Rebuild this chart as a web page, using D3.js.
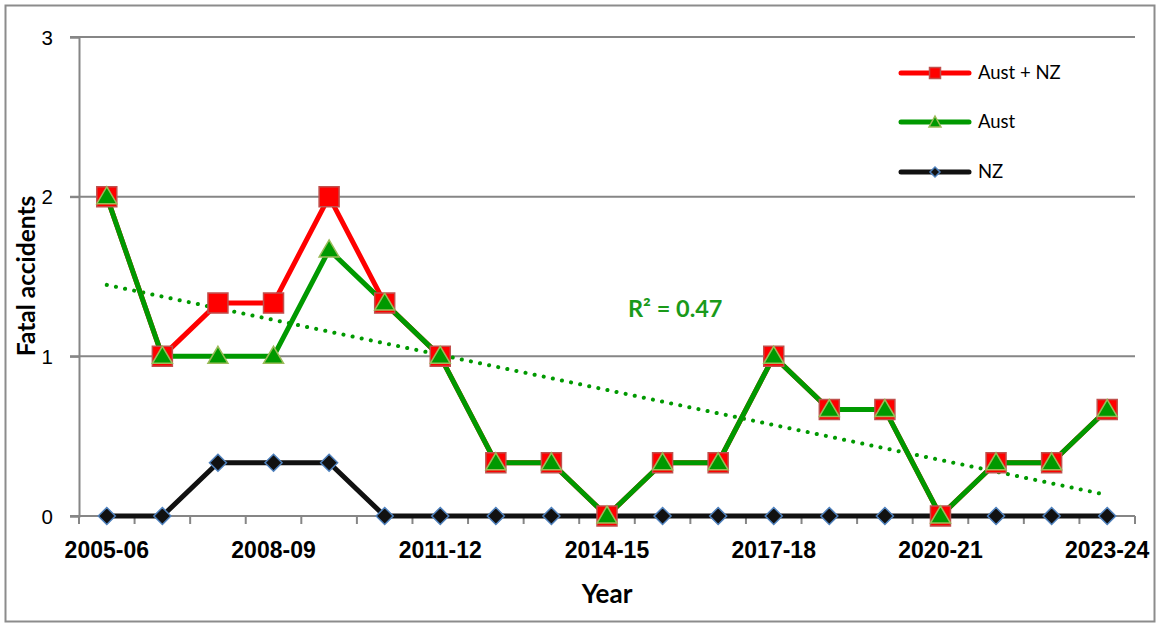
<!DOCTYPE html>
<html><head><meta charset="utf-8">
<script src="https://cdn.jsdelivr.net/npm/d3@7"></script>
<style>body{margin:0;background:#fff;}svg{display:block;font-family:Lato,"Open Sans",sans-serif;}</style>
</head><body><svg id="c" width="1160" height="625"></svg>
<script>
const years = ["2005-06","2006-07","2007-08","2008-09","2009-10","2010-11","2011-12","2012-13","2013-14","2014-15","2015-16","2016-17","2017-18","2018-19","2019-20","2020-21","2021-22","2022-23","2023-24"];
const tickLabels = ["2005-06","2008-09","2011-12","2014-15","2017-18","2020-21","2023-24"];
const austNZ = [2,1,4/3,4/3,2,4/3,1,1/3,1/3,0,1/3,1/3,1,2/3,2/3,0,1/3,1/3,2/3];
const aust   = [2,1,1,1,5/3,4/3,1,1/3,1/3,0,1/3,1/3,1,2/3,2/3,0,1/3,1/3,2/3];
const nz     = [0,0,1/3,1/3,1/3,0,0,0,0,0,0,0,0,0,0,0,0,0,0];
const yTicks = [0,1,2,3];
const r2Label = "R² = 0.47";

const svg = d3.select("#c");
const L=79, R=1135, T=37, B=516;
const x = d3.scaleBand().domain(years).range([L,R]);
const y = d3.scaleLinear().domain([0,3]).range([B,T]);
const cx = d => x(d)+x.bandwidth()/2;

svg.append("rect").attr("x",5.5).attr("y",5.5).attr("width",1149).attr("height",616)
  .attr("fill","#fff").attr("stroke","#8c8c8c").attr("stroke-width",2);

// gridlines
svg.append("g").selectAll("line").data(yTicks.filter(v=>v>0)).join("line")
  .attr("x1",L-9).attr("x2",R).attr("y1",d=>y(d)).attr("y2",d=>y(d))
  .attr("stroke","#868686").attr("stroke-width",2);

// y axis
const ya = svg.append("g").attr("transform",`translate(${L},0)`)
  .call(d3.axisLeft(y).tickValues(yTicks).tickFormat(d3.format("d")).tickSize(9).tickPadding(17));
ya.select(".domain").attr("stroke","#868686").attr("stroke-width",2);
ya.selectAll(".tick line").attr("stroke","#868686").attr("stroke-width",2);
ya.selectAll("text").attr("font-size",20.5).attr("fill","#000").attr("dy","0.35em");

// x axis
const xa = svg.append("g").attr("transform",`translate(0,${B})`)
  .call(d3.axisBottom(x).tickValues(tickLabels).tickSize(0).tickPadding(0));
xa.select(".domain").remove();
xa.selectAll("text").attr("font-size",23).attr("font-weight","bold").attr("fill","#000")
  .attr("dy",null).attr("y",42);
svg.append("line").attr("x1",L-9).attr("x2",R).attr("y1",B).attr("y2",B).attr("stroke","#868686").attr("stroke-width",2);
svg.append("g").selectAll("line").data(d3.range(years.length+1)).join("line")
  .attr("x1",i=>L+i*x.step()).attr("x2",i=>L+i*x.step()).attr("y1",B).attr("y2",B+8)
  .attr("stroke","#868686").attr("stroke-width",2);

// axis titles
svg.append("text").attr("x",(L+R)/2).attr("y",603).attr("text-anchor","middle")
  .attr("font-size",26).attr("font-weight","bold").text("Year");
svg.append("text").attr("transform","translate(35,276) rotate(-90)").attr("text-anchor","middle")
  .attr("font-size",24.5).attr("font-weight","bold").text("Fatal accidents");

// trend line (least squares on Aust + NZ)
const n = austNZ.length, xs = d3.range(1,n+1);
const mx = d3.mean(xs), my = d3.mean(austNZ);
const slope = d3.sum(xs,(v,i)=>(v-mx)*(austNZ[i]-my))/d3.sum(xs,v=>(v-mx)*(v-mx));
const icpt = my - slope*mx;
svg.append("line").attr("x1",cx(years[0])).attr("x2",cx(years[n-1]))
  .attr("y1",y(icpt+slope*1)).attr("y2",y(icpt+slope*n))
  .attr("stroke","#009900").attr("stroke-width",4).attr("stroke-linecap","round").attr("stroke-dasharray","0.1 9.2");
svg.append("text").attr("x",628).attr("y",317).attr("font-size",23.5).attr("font-weight","bold")
  .attr("fill","#1a9a1a").text(r2Label);

const line = d3.line().x((d,i)=>cx(years[i])).y(d=>y(d));
const series = [
  {name:"NZ", data:nz, color:"#111", marker:"diamond", mfill:"#111", mstroke:"#4f81bd"},
  {name:"Aust + NZ", data:austNZ, color:"#ff0000", marker:"square", mfill:"#ff0000", mstroke:"#c0504d"},
  {name:"Aust", data:aust, color:"#009900", marker:"triangle", mfill:"#009900", mstroke:"#9bbb59"}
];
function markerD(type){
  if(type==="square") return "M-10,-10h20v20h-20Z";
  if(type==="triangle") return "M0,-10L10,7L-10,7Z";
  return "M0,-8.5L8.5,0L0,8.5L-8.5,0Z";
}
series.forEach(s=>{
  svg.append("path").datum(s.data).attr("d",line).attr("fill","none")
    .attr("stroke",s.color).attr("stroke-width",5).attr("stroke-linejoin","round");
});
series.forEach(s=>{
  svg.append("g").selectAll("path").data(s.data).join("path")
    .attr("transform",(d,i)=>`translate(${cx(years[i])},${y(d)})`)
    .attr("d",markerD(s.marker))
    .attr("fill",s.mfill).attr("stroke",s.mstroke).attr("stroke-width",1.5);
});

// legend
const leg = [
  {label:"Aust + NZ", s:series[1], y:73},
  {label:"Aust", s:series[2], y:122},
  {label:"NZ", s:series[0], y:172}
];
leg.forEach(e=>{
  svg.append("line").attr("x1",901).attr("x2",969).attr("y1",e.y).attr("y2",e.y)
    .attr("stroke",e.s.color).attr("stroke-width",5).attr("stroke-linecap","round");
  svg.append("path").attr("transform",`translate(935,${e.y})`)
    .attr("d", e.s.marker==="diamond" ? "M0,-5L5,0L0,5L-5,0Z" : e.s.marker==="square" ? "M-5.5,-5.5h11v11h-11Z" : "M0,-6L6,5L-6,5Z")
    .attr("fill",e.s.mfill).attr("stroke",e.s.mstroke).attr("stroke-width",1.5);
  svg.append("text").attr("x",978).attr("y",e.y+6).attr("font-size",18.5).text(e.label);
});
</script></body></html>
